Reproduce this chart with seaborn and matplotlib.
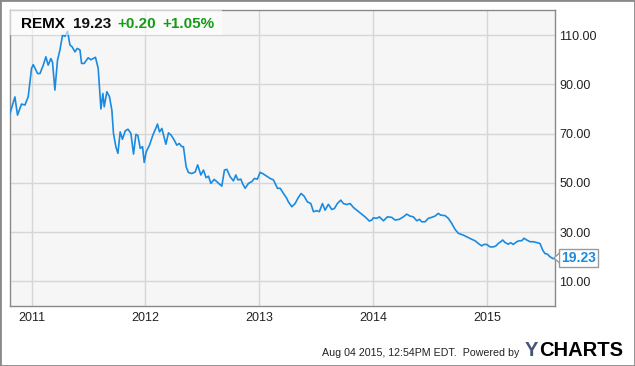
import pandas as pd
import seaborn as sns
import matplotlib.pyplot as plt
from matplotlib.patches import Rectangle, Polygon
from matplotlib.lines import Line2D

# REMX weekly close, x as fractional year
anos = [2010.811, 2010.854, 2010.877, 2010.912, 2010.942, 2010.971, 2011.000, 2011.015,
        2011.053, 2011.074, 2011.103, 2011.126, 2011.146, 2011.170, 2011.184, 2011.205,
        2011.228, 2011.249, 2011.272, 2011.293, 2011.316, 2011.337, 2011.357, 2011.381,
        2011.401, 2011.425, 2011.439, 2011.462, 2011.497, 2011.521, 2011.541, 2011.561,
        2011.585, 2011.609, 2011.626, 2011.638, 2011.661, 2011.684, 2011.705, 2011.719,
        2011.740, 2011.758, 2011.778, 2011.798, 2011.822, 2011.846, 2011.872, 2011.895,
        2011.916, 2011.933, 2011.954, 2011.974, 2011.989, 2012.006, 2012.035, 2012.065,
        2012.094, 2012.105, 2012.123, 2012.144, 2012.158, 2012.179, 2012.202, 2012.225,
        2012.252, 2012.275, 2012.296, 2012.319, 2012.333, 2012.357, 2012.377, 2012.407,
        2012.436, 2012.458, 2012.486, 2012.509, 2012.532, 2012.553, 2012.574, 2012.603,
        2012.626, 2012.649, 2012.670, 2012.693, 2012.714, 2012.743, 2012.772, 2012.793,
        2012.811, 2012.837, 2012.854, 2012.875, 2012.904, 2012.933, 2012.956, 2012.982,
        2013.006, 2013.035, 2013.065, 2013.094, 2013.123, 2013.158, 2013.182, 2013.211,
        2013.240, 2013.254, 2013.284, 2013.313, 2013.342, 2013.366, 2013.392, 2013.421,
        2013.451, 2013.474, 2013.504, 2013.526, 2013.553, 2013.576, 2013.605, 2013.635,
        2013.658, 2013.684, 2013.714, 2013.737, 2013.767, 2013.796, 2013.825, 2013.860,
        2013.898, 2013.927, 2013.965, 2013.986, 2014.000, 2014.030, 2014.053, 2014.088,
        2014.123, 2014.161, 2014.190, 2014.228, 2014.263, 2014.293, 2014.322, 2014.351,
        2014.381, 2014.404, 2014.425, 2014.454, 2014.482, 2014.512, 2014.541, 2014.570,
        2014.591, 2014.629, 2014.658, 2014.688, 2014.717, 2014.746, 2014.789, 2014.819,
        2014.863, 2014.892, 2014.921, 2014.951, 2014.971, 2014.995, 2015.024, 2015.053,
        2015.076, 2015.096, 2015.118, 2015.135, 2015.155, 2015.184, 2015.205, 2015.228,
        2015.258, 2015.281, 2015.302, 2015.322, 2015.346, 2015.375, 2015.404, 2015.439,
        2015.462, 2015.486, 2015.506, 2015.526, 2015.550, 2015.574, 2015.588]
precos = [78.2, 84.9, 77.5, 82.0, 81.6, 85.0, 96.5, 98.0,
          94.4, 94.4, 97.8, 101.2, 97.8, 100.5, 99.0, 87.7,
          99.9, 103.9, 110.0, 109.5, 111.6, 106.0, 105.2, 103.2,
          104.6, 104.0, 98.5, 98.5, 100.8, 100.0, 100.5, 101.0,
          96.5, 80.0, 86.3, 80.9, 87.0, 85.0, 79.5, 70.1,
          64.7, 62.0, 70.7, 67.7, 71.1, 71.8, 70.1, 61.7,
          69.7, 69.3, 64.0, 64.7, 58.3, 62.6, 65.3, 69.4,
          72.5, 73.9, 70.7, 72.1, 69.5, 65.7, 70.3, 69.4,
          67.4, 65.3, 66.0, 64.7, 64.7, 56.5, 54.2, 53.8,
          54.4, 57.3, 53.2, 55.2, 52.1, 52.7, 49.8, 51.4,
          50.5, 49.5, 48.7, 55.2, 55.5, 52.5, 50.8, 53.2,
          51.2, 51.5, 49.5, 47.8, 49.8, 50.5, 51.8, 51.5,
          54.3, 53.6, 52.7, 51.8, 51.2, 47.8, 47.8, 45.7,
          43.7, 42.3, 40.3, 41.6, 44.1, 45.7, 44.6, 42.3,
          41.6, 38.3, 38.7, 38.3, 41.6, 38.9, 41.3, 39.2,
          39.6, 41.6, 43.0, 41.6, 41.2, 41.6, 40.0, 38.7,
          37.3, 36.2, 34.5, 34.9, 35.8, 35.6, 36.2, 34.6,
          36.2, 36.0, 34.9, 35.2, 36.2, 37.3, 36.5, 36.2,
          34.6, 35.2, 34.2, 34.2, 35.6, 36.0, 36.5, 37.6,
          36.9, 36.7, 35.6, 33.5, 31.1, 29.5, 28.8, 28.1,
          27.1, 26.5, 25.4, 24.4, 25.0, 25.0, 24.0, 24.0,
          24.4, 25.4, 26.1, 26.8, 25.8, 25.1, 25.7, 25.0,
          26.1, 26.5, 26.5, 27.5, 26.8, 26.1, 26.1, 25.7,
          25.4, 22.7, 21.3, 21.1, 20.0, 19.3, 19.23]

anos_ticks = [2011, 2012, 2013, 2014, 2015]
y_ticks = [10, 30, 50, 70, 90, 110]

tabela = pd.DataFrame({"ano": anos, "preco": precos})

azul = "#1a8be0"
verde = "#159c15"
cinza = "#8a8a8a"

fig = plt.figure(figsize=(6.35, 3.66), dpi=100)
fig.patch.set_facecolor("white")
W, H = 635, 366
ax = fig.add_axes([10 / W, 1 - 306 / H, 545 / W, 296 / H])
ax.set_facecolor("#f6f6f6")

sns.lineplot(data=tabela, x="ano", y="preco", color=azul, linewidth=1.2, ax=ax, zorder=3)

ax.set_xlim(2010.811, 2015.594)
ax.set_ylim(0, 120.2)
ax.set_xticks(anos_ticks)
ax.set_xticklabels([str(a) for a in anos_ticks])
ax.set_yticks(y_ticks)
ax.set_yticklabels([f"{v:.2f}" for v in y_ticks])
ax.yaxis.tick_right()
ax.tick_params(axis="both", length=0, labelsize=9, labelcolor="#222222")
ax.tick_params(axis="y", pad=3)
ax.tick_params(axis="x", pad=4)
for lbl in ax.get_xticklabels() + ax.get_yticklabels():
    lbl.set_family("Liberation Sans")
ax.grid(True, color="#d6d6d6", linewidth=1)
ax.set_axisbelow(True)
for s in ax.spines.values():
    s.set_color(cinza)
    s.set_linewidth(1)
ax.set_xlabel("")
ax.set_ylabel("")

# caixa do cabecalho
ax.add_patch(Rectangle((0, 1 - 25 / 296), 212 / 545, 25 / 296, transform=ax.transAxes,
                       facecolor="white", alpha=0.6, edgecolor="none", zorder=4))
ty = 1 - 23.5 / H
fonte = dict(family="Liberation Sans", fontsize=11, fontweight="bold", va="center")
fig.text(21 / W, ty, "REMX", color="black", **fonte)
fig.text(73.5 / W, ty, "19.23", color="#111111", **fonte)
fig.text(117 / W, ty, "+0.20", color=verde, **fonte)
fig.text(162 / W, ty, "+1.05%", color=verde, **fonte)

# rotulo do ultimo valor
ax.annotate(f"{precos[-1]:.2f}", xy=(anos[-1], precos[-1]), xycoords="data",
            xytext=(561.5 / W, 1 - 258 / H), textcoords="figure fraction",
            va="center", ha="left", color=azul, fontsize=10, fontweight="bold",
            family="Liberation Sans",
            bbox=dict(boxstyle="square,pad=0.15", facecolor="white", edgecolor="#999999", lw=1),
            annotation_clip=False, zorder=6)
# ponta do rotulo
px = [559 / W, 554 / W, 559 / W]
py = [1 - 253.5 / H, 1 - 258 / H, 1 - 262.5 / H]
fig.patches.append(Polygon(list(zip(px, py)), closed=True, transform=fig.transFigure,
                           facecolor="white", edgecolor="none", zorder=7))
fig.lines.append(Line2D(px, py, transform=fig.transFigure, color="#999999", lw=1, zorder=8))

# rodape
fig.text(322 / W, 1 - 353 / H, "Aug 04 2015, 12:54PM EDT.  Powered by", fontsize=7.7,
         family="Liberation Sans", color="#222222", va="center")
fig.text(525 / W, 1 - 350 / H, "Y", fontsize=14.5, fontweight="bold",
         family="Liberation Sans", color="#46557a", va="center")
fig.text(539 / W, 1 - 350 / H, "CHARTS", fontsize=14.5, fontweight="bold",
         family="Liberation Sans", color="black", va="center")

fig.patches.append(Rectangle((0, 0), 1, 1, transform=fig.transFigure, fill=False,
                             edgecolor="#8a8a8a", linewidth=2))

fig.savefig("out.png", dpi=100)
